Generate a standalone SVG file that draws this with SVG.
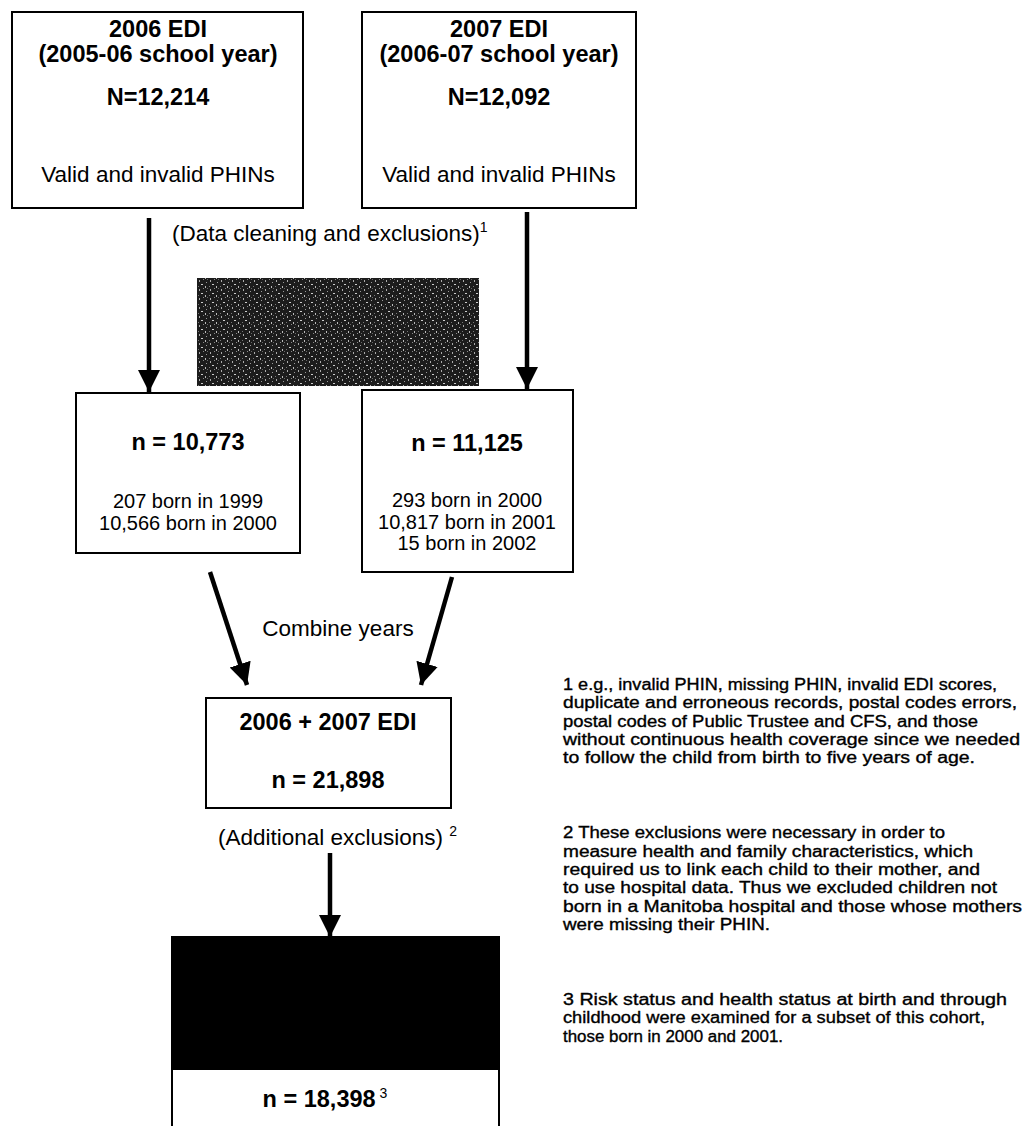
<svg xmlns="http://www.w3.org/2000/svg" width="1027" height="1126" viewBox="0 0 1027 1126">
<style>
.box{fill:#fff;stroke:#000;stroke-width:2}
.b{font-family:"Liberation Sans",Arial,sans-serif;font-weight:bold;font-size:23.5px;fill:#000;text-anchor:middle}
.r{font-family:"Liberation Sans",Arial,sans-serif;font-size:22.5px;fill:#000}
.rs{font-family:"Liberation Sans",Arial,sans-serif;font-size:20px;fill:#000;text-anchor:middle}
.sup{font-family:"Liberation Sans",Arial,sans-serif;font-size:14px;font-weight:normal;fill:#000}
.fn{font-family:"Liberation Sans",Arial,sans-serif;font-size:16px;fill:#000;stroke:#000;stroke-width:0.35}
.conn{stroke:#000;stroke-width:4.5;fill:none}
</style>
<defs>
<marker id="ah" viewBox="0 0 10 10" refX="10" refY="5" markerUnits="userSpaceOnUse" markerWidth="22" markerHeight="25" orient="auto">
<path d="M0,0 L10,5 L0,10 z" fill="#000"/>
</marker>
<pattern id="noise" width="11" height="9" patternUnits="userSpaceOnUse">
<rect width="11" height="9" fill="#1c1c1c"/>
<rect x="1" y="1" width="1" height="2" fill="#aaa"/>
<rect x="5" y="0" width="1" height="1" fill="#888"/>
<rect x="3" y="5" width="2" height="1" fill="#ccc"/>
<rect x="8" y="3" width="1" height="1" fill="#999"/>
<rect x="0" y="7" width="1" height="1" fill="#777"/>
<rect x="7" y="7" width="1" height="2" fill="#bbb"/>
<rect x="9" y="0" width="1" height="1" fill="#666"/>
</pattern>
</defs>

<g id="connectors">
<line class="conn" x1="149" y1="218" x2="149" y2="392" marker-end="url(#ah)"/>
<line class="conn" x1="527" y1="212" x2="527" y2="389" marker-end="url(#ah)"/>
<line class="conn" x1="210" y1="572" x2="247" y2="685" marker-end="url(#ah)"/>
<line class="conn" x1="452" y1="577" x2="421" y2="685" marker-end="url(#ah)"/>
<line class="conn" x1="330" y1="853" x2="330" y2="937" marker-end="url(#ah)"/>
</g>

<g id="box-2006">
<rect class="box" x="12" y="12" width="291" height="196"/>
<text class="b" x="158" y="37">2006 EDI</text>
<text class="b" x="158" y="62">(2005-06 school year)</text>
<text class="b" x="158" y="105">N=12,214</text>
<text class="r" x="158" y="182" text-anchor="middle">Valid and invalid PHINs</text>
</g>

<g id="box-2007">
<rect class="box" x="362" y="12" width="274" height="196"/>
<text class="b" x="499" y="37">2007 EDI</text>
<text class="b" x="499" y="62">(2006-07 school year)</text>
<text class="b" x="499" y="105">N=12,092</text>
<text class="r" x="499" y="182" text-anchor="middle">Valid and invalid PHINs</text>
</g>

<g id="label-cleaning">
<text class="r" x="172" y="241">(Data cleaning and exclusions)<tspan class="sup" dy="-9">1</tspan></text>
</g>

<g id="obscured-box">
<rect x="197" y="278" width="282" height="108" fill="url(#noise)"/>
</g>

<g id="box-10773">
<rect class="box" x="76" y="393" width="224" height="160"/>
<text class="b" x="188" y="450">n = 10,773</text>
<text class="rs" x="188" y="508">207 born in 1999</text>
<text class="rs" x="188" y="530">10,566 born in 2000</text>
</g>

<g id="box-11125">
<rect class="box" x="362" y="390" width="211" height="182"/>
<text class="b" x="467" y="451">n = 11,125</text>
<text class="rs" x="467" y="507">293 born in 2000</text>
<text class="rs" x="467" y="529">10,817 born in 2001</text>
<text class="rs" x="467" y="550">15 born in 2002</text>
</g>

<g id="label-combine">
<text class="r" x="338" y="636" text-anchor="middle">Combine years</text>
</g>

<g id="box-combined">
<rect class="box" x="206" y="698" width="245" height="110"/>
<text class="b" x="328" y="730">2006 + 2007 EDI</text>
<text class="b" x="328" y="788">n = 21,898</text>
</g>

<g id="label-additional">
<text class="r" x="218" y="845">(Additional exclusions)<tspan class="sup" dx="6" dy="-9">2</tspan></text>
</g>

<g id="box-final">
<rect x="172" y="937" width="327" height="132" fill="#000" stroke="#000" stroke-width="2"/>
<rect class="box" x="172" y="1069" width="327" height="70"/>
<text class="b" x="325" y="1107">n = 18,398<tspan class="sup" dx="4" dy="-9">3</tspan></text>
</g>

<g id="footnotes">
<text class="fn" x="563" y="690" textLength="434" lengthAdjust="spacingAndGlyphs">1 e.g., invalid PHIN, missing PHIN, invalid EDI scores,</text>
<text class="fn" x="563" y="708" textLength="454" lengthAdjust="spacingAndGlyphs">duplicate  and erroneous records, postal codes errors,</text>
<text class="fn" x="563" y="727" textLength="415" lengthAdjust="spacingAndGlyphs">postal codes of Public Trustee and CFS, and those</text>
<text class="fn" x="563" y="745" textLength="457" lengthAdjust="spacingAndGlyphs">without continuous health coverage  since we needed</text>
<text class="fn" x="563" y="763" textLength="412" lengthAdjust="spacingAndGlyphs">to follow the child from birth to five years of age.</text>

<text class="fn" x="563" y="838" textLength="382" lengthAdjust="spacingAndGlyphs">2 These exclusions were necessary in order to</text>
<text class="fn" x="563" y="857" textLength="410" lengthAdjust="spacingAndGlyphs">measure health and family characteristics, which</text>
<text class="fn" x="563" y="875" textLength="417" lengthAdjust="spacingAndGlyphs">required us to link each child to their mother, and</text>
<text class="fn" x="563" y="893" textLength="434" lengthAdjust="spacingAndGlyphs">to use hospital data. Thus we excluded children not</text>
<text class="fn" x="563" y="912" textLength="459" lengthAdjust="spacingAndGlyphs">born in a Manitoba hospital and those whose mothers</text>
<text class="fn" x="563" y="930" textLength="207" lengthAdjust="spacingAndGlyphs">were missing their PHIN.</text>

<text class="fn" x="563" y="1005" textLength="444" lengthAdjust="spacingAndGlyphs">3 Risk status and health status at birth and through</text>
<text class="fn" x="563" y="1023" textLength="422" lengthAdjust="spacingAndGlyphs">childhood were examined for a subset of this cohort,</text>
<text class="fn" x="563" y="1042" textLength="220" lengthAdjust="spacingAndGlyphs">those born in 2000 and 2001.</text>
</g>
</svg>
